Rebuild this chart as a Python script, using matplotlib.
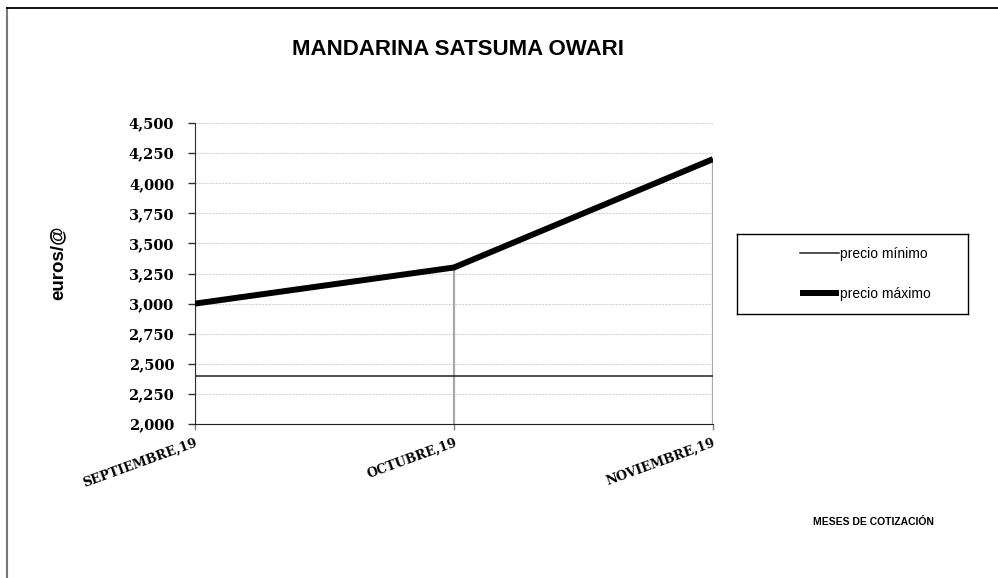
import numpy as np
import matplotlib
matplotlib.use('Agg')
import matplotlib.pyplot as plt
from matplotlib.lines import Line2D
from matplotlib.ticker import FuncFormatter

meses = ['SEPTIEMBRE,19', 'OCTUBRE,19', 'NOVIEMBRE,19']
precio_minimo = [2.40, 2.40, 2.40]
precio_maximo = [3.00, 3.30, 4.20]
yticks = np.arange(2.0, 4.51, 0.25)

fig = plt.figure(figsize=(9.98, 5.78), dpi=100)
ax = fig.add_axes([0.1954, 0.2664, 0.519, 0.5208])

x = np.arange(len(meses))

# drop lines from the max series to the axis
ax.vlines(x, 2.0, precio_maximo, colors='#a8a8a8', lw=1.6, zorder=2)
l_min, = ax.plot(x, precio_minimo, c='#202020', lw=1.1, zorder=3)
l_max, = ax.plot(x, precio_maximo, c='k', lw=4.3, solid_capstyle='butt', zorder=4)

ax.set_xlim(0, 2)
ax.set_ylim(2.0, 4.5)
ax.set_yticks(yticks)
ax.yaxis.set_major_formatter(FuncFormatter(lambda v, p: f'{v:.3f}'.replace('.', ',')))
ax.set_xticks(x)
ax.set_xticklabels(meses, rotation=20, ha='right', rotation_mode='anchor')

ax.grid(axis='y', color='#d4d4d4', ls=(0, (2, 1)), lw=0.8, zorder=0)
for s in ['top', 'right']:
    ax.spines[s].set_visible(False)
ax.spines['left'].set_color('#303030')
ax.spines['bottom'].set_color('#202020')
ax.tick_params(axis='y', direction='out', length=5, width=1, color='#303030', pad=10)
ax.tick_params(axis='x', direction='out', length=4, width=1, color='#808080', pad=5)

for lab in ax.get_yticklabels():
    lab.set_fontfamily('DejaVu Serif')
    lab.set_fontweight('bold')
    lab.set_fontsize(10.5)
for lab in ax.get_xticklabels():
    lab.set_fontfamily('DejaVu Serif')
    lab.set_fontweight('bold')
    lab.set_fontsize(9.2)

sans = 'Liberation Sans'
fig.text(0.459, 0.915, 'MANDARINA SATSUMA OWARI', ha='center', va='center',
         family=sans, weight='bold', fontsize=16)
fig.text(0.058, 0.545, 'euros/@', ha='center', va='center', rotation=90,
         family=sans, weight='bold', fontsize=13.5)
fig.text(0.875, 0.097, 'MESES DE COTIZACIÓN', ha='center', va='center',
         family=sans, weight='bold', fontsize=7.5)

# legend box
lax = fig.add_axes([737 / 998, 1 - 314 / 578, 231 / 998, 80 / 578])
lax.set_xticks([])
lax.set_yticks([])
for s in lax.spines.values():
    s.set_color('k')
    s.set_linewidth(1)
lax.legend([l_min, l_max], ['precio mínimo', 'precio máximo'], loc='center',
           bbox_to_anchor=(0.555, 0.5), frameon=False, prop={'family': sans, 'size': 10},
           handlelength=2.8, handletextpad=0.1, labelspacing=1.85)

# outer chart border (only left and top visible)
fig.add_artist(Line2D([0.007, 0.007], [0, 0.986], color='#777777', lw=1.5))
fig.add_artist(Line2D([0.007, 1], [0.986, 0.986], color='k', lw=1.3))

fig.savefig('out.png', dpi=100)
